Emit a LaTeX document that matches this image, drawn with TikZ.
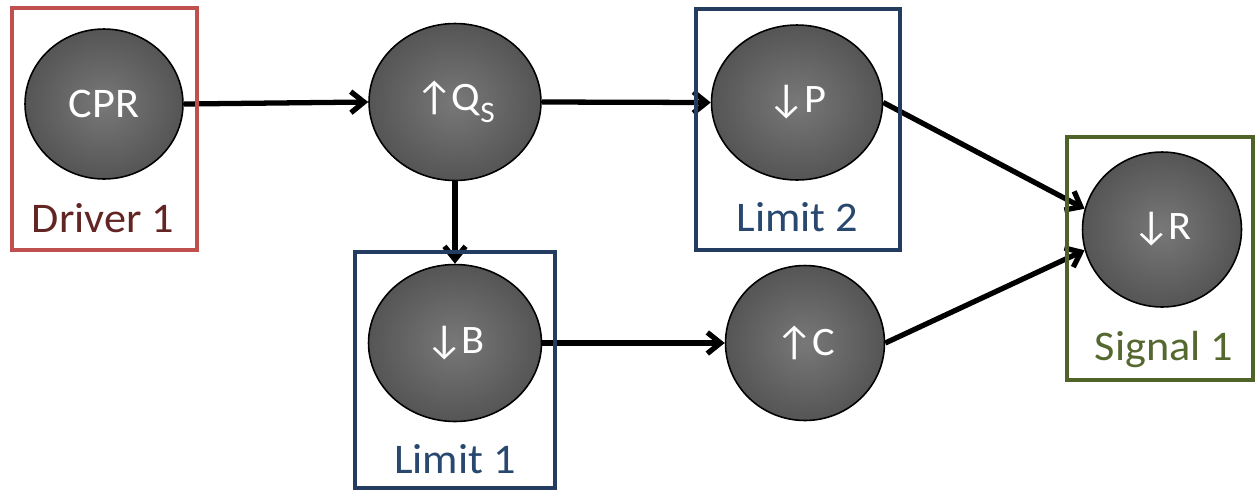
\documentclass[tikz,border=0pt]{standalone}
\usepackage{fontspec}
\setmainfont[FakeStretch=1.05]{Carlito}
\usetikzlibrary{arrows.meta,shapes.geometric}
\definecolor{ballin}{RGB}{120,120,120}
\definecolor{ballmid}{RGB}{78,78,78}
\definecolor{ballout}{RGB}{34,34,34}
\definecolor{redbox}{RGB}{192,80,77}
\definecolor{redtext}{RGB}{99,37,35}
\definecolor{bluebox}{RGB}{36,60,96}
\definecolor{bluetext}{RGB}{40,72,112}
\definecolor{greenbox}{RGB}{79,98,40}
\definecolor{greentext}{RGB}{84,104,48}
\pgfdeclareradialshading{ballshade}{\pgfpoint{0bp}{0bp}}{color(0bp)=(ballin); color(30bp)=(ballmid); color(50bp)=(ballout)}
\newcommand{\up}{\fontsize{23}{26}\selectfont↑\kern-0.04em}
\newcommand{\dn}{\fontsize{23}{26}\selectfont↓\kern-0.04em}
\begin{document}
\begin{tikzpicture}[x=0.02cm,y=-0.02cm,
  ball/.style={ellipse, draw=black, line width=0.9pt, shade, shading=ballshade,
    text=white, inner sep=0pt, font=\fontsize{24}{28}\selectfont},
  frame/.style={draw, line width=2.2pt, inner sep=0pt},
  lbl/.style={anchor=base, font=\fontsize{24}{28}\selectfont},
  link/.style={line width=3pt, -{Straight Barb[length=7.5pt,width=12pt]}}]
\useasboundingbox (0,0) rectangle (1257,491);
% nodes
\node[ball, minimum width=3.16cm, minimum height=3.0cm] (cpr) at (104,104) {CPR};
\node[ball, minimum width=3.44cm, minimum height=3.14cm] (qs) at (455,102) {\up Q\raisebox{-0.3em}{\fontsize{17}{17}\selectfont S}};
\node[ball, minimum width=3.42cm, minimum height=3.10cm] (p) at (797,102.5) {\dn P};
\node[ball, minimum width=3.46cm, minimum height=3.14cm] (b) at (455,343) {\dn B};
\node[ball, minimum width=3.18cm, minimum height=3.10cm] (c) at (805,343) {\up C};
\node[ball, minimum width=3.18cm, minimum height=3.10cm] (r) at (1162,229.5) {\dn R};
% connectors
\draw[link] (cpr.east) -- (qs.west);
\draw[link] (qs.east) -- (p.west);
\draw[link] (qs.south) -- (b.north);
\draw[link] (b.east) -- (c.west);
\draw[link] (p.east) -- (r.165);
\draw[link] (c.east) -- (r.195);
% frames
\node[frame, draw=redbox, minimum width=3.70cm, minimum height=4.84cm] (drv) at (104.5,129) {};
\node[frame, draw=bluebox, minimum width=4.08cm, minimum height=4.82cm] (lim2) at (798,129.5) {};
\node[frame, draw=bluebox, minimum width=4.00cm, minimum height=4.72cm] (lim1) at (455,370) {};
\node[frame, draw=greenbox, minimum width=3.72cm, minimum height=4.86cm] (sig) at (1160,258.5) {};
% labels
\node[lbl, text=redtext] (drvlbl) at (103,232) {Driver 1};
\node[lbl, text=bluetext] (lim2lbl) at (797.5,231) {Limit 2};
\node[lbl, text=bluetext] (lim1lbl) at (455,473) {Limit 1};
\node[lbl, text=greentext] (siglbl) at (1164,360) {Signal 1};
\end{tikzpicture}
\end{document}
